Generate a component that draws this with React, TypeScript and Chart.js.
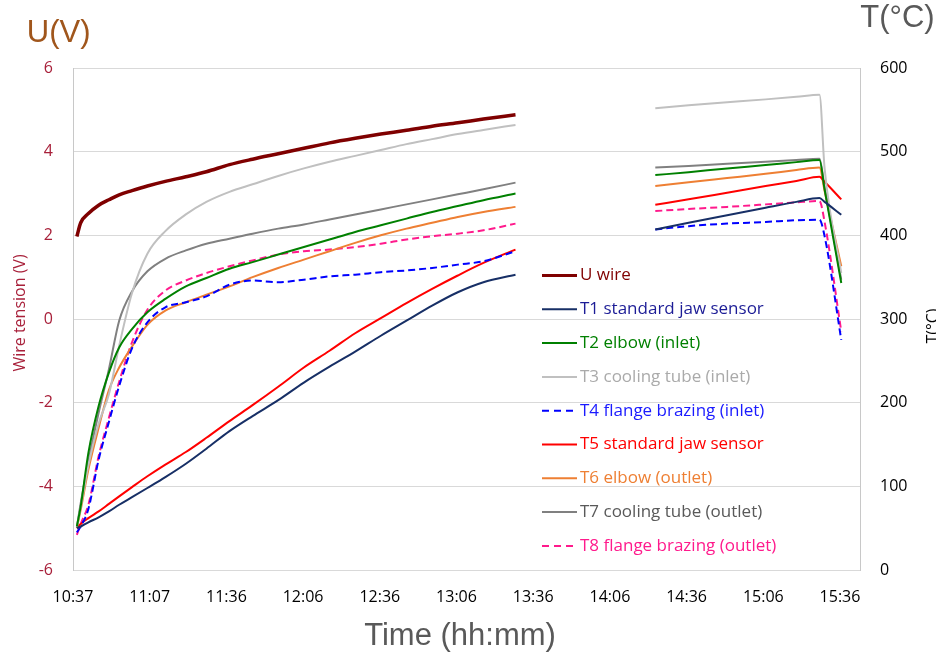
import React, { useEffect, useRef } from "react";
import { Chart, registerables } from "chart.js";

Chart.register(...registerables);

// minutes since 10:37 (index 23 is the gap between the two recordings)
const times = [1.5, 3, 6, 10, 14, 18, 23, 29, 36, 44, 52, 61, 70, 80, 90, 100, 110, 120, 130, 140, 150, 160, 172.5, 200, 227, 240, 255, 270, 282, 291, 293, 299.5];

const uWire = [1.97, 2.3, 2.52, 2.72, 2.85, 2.97, 3.07, 3.18, 3.29, 3.4, 3.52, 3.69, 3.82, 3.95, 4.08, 4.21, 4.32, 4.42, 4.51, 4.61, 4.69, 4.78, 4.88, null, null, null, null, null, null, null, null, null];
const t1 = [50, 52, 57, 63, 70, 78, 87, 98, 111, 127, 145, 166, 184, 203, 224, 243, 261, 280, 298, 316, 332, 344, 353, null, 407, 415, 424, 433, 440, 444.5, 440, 424.6];
const t2 = [52, 76, 140, 196, 236, 266, 288, 308, 324, 339, 349, 360, 368, 377, 386, 395, 404, 412, 420, 428, 435, 442, 450, null, 472, 475.5, 480, 484, 487.5, 490, 455, 343];
const t3 = [51, 75, 125, 175, 210, 268, 331, 378, 405, 425, 440, 452, 461, 471, 480, 488, 495, 502, 509, 515, 521, 526, 532, null, 552, 555.5, 559, 562.5, 565.5, 568, 480, 355];
const t4 = [45, 52, 73, 132, 177, 220, 265, 296, 314, 320, 327, 341, 346, 344, 347, 351, 353, 356, 358, 361, 365, 369, 381, null, 407, 411, 414, 416, 418, 418.5, 399, 275];
const t5 = [50, 55, 62, 70, 79, 88, 99, 112, 126, 141, 158, 178, 197, 219, 242, 262, 283, 301, 319, 336, 352, 367, 383, null, 436.5, 443, 451, 459, 465, 470, 464, 443];
const t6 = [50, 72, 120, 170, 215, 242, 267, 293, 310, 320, 329, 339, 350, 361, 371, 381, 391, 400, 408, 415, 422, 428, 434, null, 459, 463.5, 468.5, 473.5, 478, 481, 453, 363];
const t7 = [51, 80, 130, 188, 240, 298, 333, 357, 372, 382, 390, 396, 402, 408, 413, 419, 425, 431, 437, 443, 449, 455, 463, null, 481, 483, 485.5, 488, 490, 491.5, 457, 347];
const t8 = [42, 55, 78, 136, 182, 225, 272, 311, 334, 346, 355, 363, 370, 377, 381, 383, 386, 390, 395, 399, 402, 406, 414, null, 429, 431.5, 434, 437, 439.5, 441, 416, 285];

const seriesNames = [
  "U wire",
  "T1 standard jaw sensor",
  "T2 elbow (inlet)",
  "T3 cooling tube (inlet)",
  "T4 flange brazing (inlet)",
  "T5 standard jaw sensor",
  "T6 elbow (outlet)",
  "T7 cooling tube (outlet)",
  "T8 flange brazing (outlet)",
];
const seriesValues = [uWire, t1, t2, t3, t4, t5, t6, t7, t8];
const lineColors = ["#7f0000", "#172f66", "#008000", "#c0c0c0", "#0000ff", "#ff0000", "#ee7f33", "#808080", "#ff1a8c"];
const legendTextColors = ["#800000", "#1c1c96", "#008000", "#aaaaaa", "#1a1aff", "#ff0000", "#ee7f33", "#595959", "#ff1a8c"];
const dashed = [false, false, false, false, true, false, false, false, true];

const xTickValues = [0, 29.9, 59.8, 89.7, 119.6, 149.5, 179.4, 209.3, 239.2, 269.1, 299];
const xTickLabels = ["10:37", "11:07", "11:36", "12:06", "12:36", "13:06", "13:36", "14:06", "14:36", "15:06", "15:36"];
const leftTicks = [-6, -4, -2, 0, 2, 4, 6];
const rightTicks = [0, 100, 200, 300, 400, 500, 600];

const overlayPlugin = {
  id: "overlay",
  afterDraw(chart: any) {
    const ctx = chart.ctx as CanvasRenderingContext2D;
    ctx.save();

    // left tick labels (right-aligned, clear of the plot edge)
    const yV = chart.scales.yV;
    ctx.font = '16px "Open Sans"';
    ctx.textAlign = "right";
    ctx.textBaseline = "middle";
    ctx.fillStyle = "#a8203a";
    for (const v of leftTicks) {
      ctx.fillText(String(v), 53, yV.getPixelForValue(v));
    }

    // titles
    ctx.textAlign = "center";
    ctx.textBaseline = "middle";
    ctx.font = '31px "Liberation Sans"';
    ctx.fillStyle = "#a0561c";
    ctx.fillText("U(V)", 58.7, 33.5);
    ctx.fillStyle = "#595959";
    ctx.fillText("T(°C)", 897.5, 18);
    ctx.fillText("Time (hh:mm)", 460, 636);

    // rotated axis labels
    ctx.font = '16px "Open Sans"';
    ctx.textBaseline = "alphabetic";
    ctx.save();
    ctx.translate(25, 313);
    ctx.rotate(-Math.PI / 2);
    ctx.fillStyle = "#a8203a";
    ctx.fillText("Wire tension (V)", 0, 0);
    ctx.restore();
    ctx.save();
    ctx.translate(937.5, 326);
    ctx.rotate(-Math.PI / 2);
    ctx.fillStyle = "#000000";
    ctx.fillText("T(°C)", 0, 0);
    ctx.restore();

    // legend
    const ds = chart.data.datasets;
    ctx.textAlign = "left";
    ctx.textBaseline = "middle";
    ctx.font = '17px "Open Sans"';
    for (let i = 0; i < ds.length; i++) {
      const y = 275.5 + i * 33.8;
      ctx.save();
      ctx.strokeStyle = ds[i].borderColor;
      ctx.lineWidth = i === 0 ? 3 : 2;
      ctx.setLineDash(dashed[i] ? [7, 5] : []);
      ctx.beginPath();
      ctx.moveTo(542, y);
      ctx.lineTo(577, y);
      ctx.stroke();
      ctx.restore();
      ctx.fillStyle = legendTextColors[i];
      ctx.fillText(ds[i].label, 580, y);
    }
    ctx.restore();
  },
};

export default function App() {
  const canvasRef = useRef<HTMLCanvasElement | null>(null);

  useEffect(() => {
    if (!canvasRef.current) return;
    const datasets = seriesValues.map((vals, i) => ({
      label: seriesNames[i],
      data: times.map((t, k) => ({ x: t, y: vals[k] })),
      borderColor: lineColors[i],
      backgroundColor: lineColors[i],
      borderWidth: i === 0 ? 3.5 : 2,
      borderDash: dashed[i] ? [7, 4] : [],
      pointRadius: 0,
      cubicInterpolationMode: "monotone",
      spanGaps: false,
      yAxisID: i === 0 ? "yV" : "yT",
    }));

    const chart = new Chart(canvasRef.current, {
      type: "line",
      data: { datasets },
      options: {
        responsive: false,
        animation: false,
        layout: { padding: { top: 68, left: 0, right: 0, bottom: 0 } },
        plugins: { legend: { display: false }, tooltip: { enabled: false }, title: { display: false } },
        scales: {
          x: {
            type: "linear",
            min: 0,
            max: 306.8,
            grid: { display: false },
            border: { display: false },
            afterBuildTicks: (s: any) => {
              s.ticks = xTickValues.map((v) => ({ value: v }));
            },
            afterFit: (s: any) => {
              s.height = 86;
            },
            ticks: {
              autoSkip: false,
              maxRotation: 0,
              padding: 10,
              color: "#000000",
              font: { family: "Open Sans", size: 16 },
              callback: (v: any) => {
                const idx = xTickValues.indexOf(Number(v));
                return idx >= 0 ? xTickLabels[idx] : "";
              },
            },
          },
          yV: {
            type: "linear",
            position: "left",
            min: -6,
            max: 6,
            afterBuildTicks: (s: any) => {
              s.ticks = leftTicks.map((v) => ({ value: v }));
            },
            afterFit: (s: any) => {
              s.width = 73;
            },
            grid: { color: "#d9d9d9", drawTicks: false, lineWidth: 1 },
            border: { color: "#c8c8c8", width: 1 },
            ticks: { display: false },
          },
          yT: {
            type: "linear",
            position: "right",
            min: 0,
            max: 600,
            afterBuildTicks: (s: any) => {
              s.ticks = rightTicks.map((v) => ({ value: v }));
            },
            afterFit: (s: any) => {
              s.width = 76;
            },
            grid: { drawOnChartArea: false, drawTicks: false },
            border: { color: "#c8c8c8", width: 1 },
            ticks: {
              padding: 20,
              color: "#000000",
              font: { family: "Open Sans", size: 16 },
              callback: (v: any) => String(v),
            },
          },
        },
      },
      plugins: [overlayPlugin],
    } as any);
    return () => chart.destroy();
  }, []);

  return (
    <div style={{ position: "absolute", left: 0, top: 0, width: 936, height: 656, background: "#ffffff" }}>
      <canvas ref={canvasRef} width={936} height={656} style={{ display: "block" }} />
    </div>
  );
}
